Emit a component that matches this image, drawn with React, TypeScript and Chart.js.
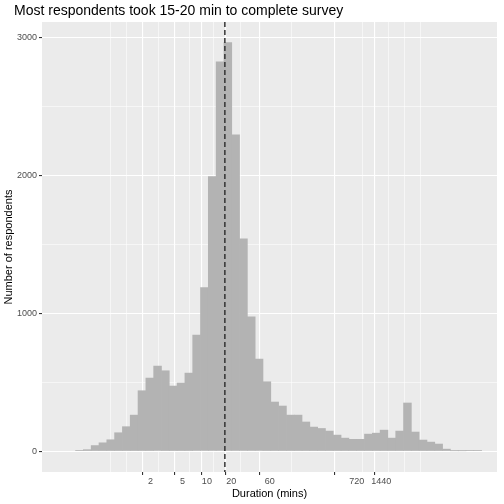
import React, { useEffect, useRef } from "react";
import { Chart, registerables } from "chart.js";

Chart.register(...registerables);

// histogram bins, equal width on log10(minutes)
const binStartLog = -0.626;
const binWidthLog = 0.0967;
const counts = [
  5, 10, 40, 60, 82, 133, 177, 261, 438, 530, 617, 583, 472, 494, 566, 842, 1186, 1992, 2825, 2965,
  2295, 1540, 975, 668, 503, 356, 327, 261, 261, 211, 174, 164, 145, 116, 94, 85, 85, 123, 130, 152,
  94, 145, 349, 138, 80, 65, 51, 14, 2, 2, 3, 3,
];
const xLabels = [2, 5, 10, 20, 60, 720, 1440];
const xMinorLog = [-0.095, 0.103, 0.499, 0.86, 1.152, 1.536, 2.317, 2.993, 3.343, 3.541];
const yTicks = [0, 1000, 2000, 3000];
const yMinor = [500, 1500, 2500];
const medianMins = 16.7;

const App: React.FC = () => {
  const ref = useRef<HTMLCanvasElement>(null);

  useEffect(() => {
    document.body.style.margin = "0";
    if (!ref.current) return;
    const points = counts.map((c, i) => ({ x: binStartLog + binWidthLog * (i + 0.5), y: c }));
    const labelLogs = xLabels.map((v) => Math.log10(v));
    const xTickVals = [...labelLogs, ...xMinorLog].sort((a, b) => a - b);
    const isLabel = (v: number) => labelLogs.some((l) => Math.abs(l - v) < 1e-6);
    const yTickVals = [...yTicks, ...yMinor].sort((a, b) => a - b);

    const bg = {
      id: "bg",
      beforeDraw(chart: any) {
        const { ctx, chartArea: a } = chart;
        ctx.save();
        ctx.fillStyle = "#ebebeb";
        ctx.fillRect(a.left, a.top, a.right - a.left, a.bottom - a.top);
        ctx.restore();
      },
      afterDatasetsDraw(chart: any) {
        const { ctx, chartArea: a, scales } = chart;
        const x = scales.x.getPixelForValue(Math.log10(medianMins));
        ctx.save();
        ctx.strokeStyle = "#333333";
        ctx.lineWidth = 1.5;
        ctx.setLineDash([5, 3]);
        ctx.beginPath();
        ctx.moveTo(x, a.top);
        ctx.lineTo(x, a.bottom);
        ctx.stroke();
        ctx.restore();
      },
      afterDraw(chart: any) {
        const { ctx } = chart;
        ctx.save();
        ctx.fillStyle = "#000";
        ctx.font = "14px 'Liberation Sans', Arial, sans-serif";
        ctx.textBaseline = "middle";
        ctx.fillText("Most respondents took 15-20 min to complete survey", 14, 11);
        ctx.restore();
      },
    };

    const chart = new Chart(ref.current, {
      type: "bar",
      data: {
        datasets: [
          {
            data: points,
            backgroundColor: "#b3b3b3",
            borderWidth: 0,
            barPercentage: 1,
            categoryPercentage: 1,
          },
        ],
      },
      options: {
        animation: false,
        responsive: true,
        maintainAspectRatio: false,
        layout: { padding: { top: 22, right: 7, left: 0, bottom: 0 } },
        plugins: { legend: { display: false }, tooltip: { enabled: false } },
        scales: {
          x: {
            type: "linear",
            min: -0.876,
            max: 4.427,
            afterBuildTicks: (s: any) => {
              s.ticks = xTickVals.map((v) => ({ value: v }));
            },
            afterFit: (s: any) => {
              s.height = 32;
            },
            ticks: {
              autoSkip: false,
              maxRotation: 0,
              padding: 1,
              color: "#4d4d4d",
              font: { size: 9, family: "'Liberation Sans', Arial, sans-serif" },
              callback: (v: any) => {
                const n = Number(v);
                return isLabel(n) ? String(Math.round(Math.pow(10, n))) : "";
              },
            },
            grid: {
              color: "#ffffff",
              lineWidth: (c: any) => (c.tick && isLabel(c.tick.value) ? 1.1 : 0.55),
              tickColor: (c: any) => (c.tick && isLabel(c.tick.value) ? "#333333" : "rgba(0,0,0,0)"),
              tickLength: 3,
            },
            border: { display: false },
            title: {
              display: true,
              text: "Duration (mins)",
              color: "#000",
              font: { size: 11, family: "'Liberation Sans', Arial, sans-serif" },
              padding: { top: 0, bottom: 3 },
            },
          },
          y: {
            min: -152,
            max: 3115,
            afterBuildTicks: (s: any) => {
              s.ticks = yTickVals.map((v) => ({ value: v }));
            },
            afterFit: (s: any) => {
              s.width = 42;
            },
            ticks: {
              padding: 2,
              color: "#4d4d4d",
              font: { size: 9, family: "'Liberation Sans', Arial, sans-serif" },
              callback: (v: any) => (yTicks.includes(Number(v)) ? String(v) : ""),
            },
            grid: {
              color: "#ffffff",
              lineWidth: (c: any) => (c.tick && yTicks.includes(c.tick.value) ? 1.1 : 0.55),
              tickColor: (c: any) => (c.tick && yTicks.includes(c.tick.value) ? "#333333" : "rgba(0,0,0,0)"),
              tickLength: 3,
            },
            border: { display: false },
            title: {
              display: true,
              text: "Number of respondents",
              color: "#000",
              font: { size: 11, family: "'Liberation Sans', Arial, sans-serif" },
              padding: { top: 2, bottom: 0 },
            },
          },
        },
      },
      plugins: [bg],
    });

    return () => {
      chart.destroy();
    };
  }, []);

  return (
    <div style={{ position: "relative", width: 504, height: 504, background: "#fff" }}>
      <canvas ref={ref} />
    </div>
  );
};

export default App;
